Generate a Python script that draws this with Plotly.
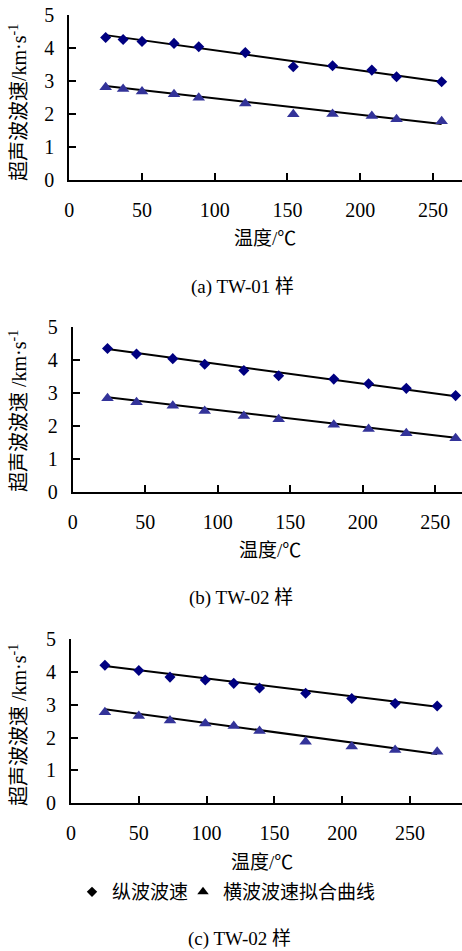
import plotly.graph_objects as go

# ---------------- data ----------------
# (a) TW-01
a_x_long = [25, 37, 50, 72, 89, 121, 154, 181, 208, 225, 256]
a_v_long = [4.32, 4.26, 4.20, 4.14, 4.04, 3.86, 3.43, 3.46, 3.33, 3.13, 2.98]
a_x_tran = [25, 37, 50, 72, 89, 121, 154, 181, 208, 225, 256]
a_v_tran = [2.81, 2.76, 2.68, 2.60, 2.49, 2.32, 1.99, 2.00, 1.94, 1.84, 1.78]
a_fit_x = [25, 256]
a_fit_long = [4.39, 2.98]
a_fit_tran = [2.85, 1.70]

# (b) TW-02
b_x = [24, 44, 69, 91, 118, 142, 180, 204, 230, 264]
b_v_long = [4.36, 4.19, 4.05, 3.88, 3.69, 3.53, 3.43, 3.29, 3.15, 2.93]
b_v_tran = [2.85, 2.73, 2.62, 2.46, 2.31, 2.21, 2.05, 1.92, 1.79, 1.64]
b_fit_x = [24, 264]
b_fit_long = [4.34, 2.91]
b_fit_tran = [2.88, 1.65]

# (c) TW-02
c_x = [25, 50, 73, 99, 120, 139, 173, 207, 239, 270]
c_v_long = [4.20, 4.04, 3.84, 3.75, 3.65, 3.51, 3.35, 3.19, 3.04, 2.96]
c_v_tran = [2.77, 2.66, 2.52, 2.43, 2.35, 2.20, 1.87, 1.73, 1.62, 1.57]
c_fit_x = [25, 270]
c_fit_long = [4.18, 2.94]
c_fit_tran = [2.86, 1.50]

y_ticks = [0, 1, 2, 3, 4, 5]
x_ticks = [0, 50, 100, 150, 200, 250]

captions = ["(a) TW-01 样", "(b) TW-02 样", "(c) TW-02 样"]
x_title = "温度/℃"
y_titles = ["超声波波速/km·s<sup>-1</sup>",
            "超声波波速 /km·s<sup>-1</sup>",
            "超声波波速 /km·s<sup>-1</sup>"]
legend_names = ["纵波波速", "横波波速拟合曲线"]

# ---------------- styling ----------------
W, H = 462, 951
FONT = "Liberation Serif, Noto Sans CJK SC, serif"
FS = 19
TFS = 20
C_LONG = "#000080"
C_TRAN = "#333399"

def py(p):  # pixel row -> paper y
    return 1 - p / H

def px(p):
    return p / W

panels = [
    dict(xs_l=a_x_long, vl=a_v_long, xs_t=a_x_tran, vt=a_v_tran,
         fx=a_fit_x, fl=a_fit_long, ft=a_fit_tran,
         x0=69.3, top=15, bot=180, xmax=270,
         xt=(265, 238), cap=(242, 287), yt=(18, 103)),
    dict(xs_l=b_x, vl=b_v_long, xs_t=b_x, vt=b_v_tran,
         fx=b_fit_x, fl=b_fit_long, ft=b_fit_tran,
         x0=72.7, top=327.3, bot=492.3, xmax=268.4,
         xt=(270, 550), cap=(241, 598), yt=(18, 411)),
    dict(xs_l=c_x, vl=c_v_long, xs_t=c_x, vt=c_v_tran,
         fx=c_fit_x, fl=c_fit_long, ft=c_fit_tran,
         x0=71.0, top=639, bot=803.3, xmax=288.3,
         xt=(262, 862), cap=(240, 939), yt=(18, 725)),
]

fig = go.Figure()
annotations = []
layout_axes = {}

for i, p in enumerate(panels):
    n = "" if i == 0 else str(i + 1)
    xa, ya = "x" + n, "y" + n
    # fit lines
    for fy in (p["fl"], p["ft"]):
        fig.add_trace(go.Scatter(x=p["fx"], y=fy, mode="lines",
                                 line=dict(color="black", width=2),
                                 xaxis=xa, yaxis=ya, showlegend=False,
                                 cliponaxis=False, hoverinfo="skip"))
    fig.add_trace(go.Scatter(x=p["xs_l"], y=p["vl"], mode="markers",
                             marker=dict(symbol="diamond", size=8.5, color=C_LONG),
                             xaxis=xa, yaxis=ya, showlegend=False, cliponaxis=False))
    fig.add_trace(go.Scatter(x=p["xs_t"], y=p["vt"], mode="markers",
                             marker=dict(symbol="triangle-up", size=11, color=C_TRAN),
                             xaxis=xa, yaxis=ya, showlegend=False, cliponaxis=False))

    common = dict(showline=True, linecolor="black", linewidth=2,
                  ticks="inside", ticklen=7, tickwidth=2, tickcolor="black",
                  showgrid=False, zeroline=False, automargin=False,
                  tickfont=dict(family=FONT, size=TFS, color="black"))
    layout_axes["xaxis" + n] = dict(common, domain=[px(p["x0"]), 1],
                                    range=[0, p["xmax"]], tickvals=x_ticks,
                                    anchor=ya, ticklabelstandoff=11)
    layout_axes["yaxis" + n] = dict(common, domain=[py(p["bot"]), py(p["top"])],
                                    range=[0, 5], tickvals=y_ticks,
                                    anchor=xa, ticklabelstandoff=9)

    annotations.append(dict(text=x_title, x=px(p["xt"][0]), y=py(p["xt"][1]),
                            xref="paper", yref="paper", showarrow=False,
                            xanchor="center", yanchor="middle",
                            font=dict(family=FONT, size=FS, color="black")))
    annotations.append(dict(text=captions[i], x=px(p["cap"][0]), y=py(p["cap"][1]),
                            xref="paper", yref="paper", showarrow=False,
                            xanchor="center", yanchor="middle",
                            font=dict(family=FONT, size=FS, color="black")))
    annotations.append(dict(text=y_titles[i], x=px(p["yt"][0]), y=py(p["yt"][1]),
                            xref="paper", yref="paper", showarrow=False,
                            textangle=-90, xanchor="center", yanchor="middle",
                            font=dict(family=FONT, size=FS + 1, color="black")))

# legend-only entries (black markers), each in its own legend box
fig.add_trace(go.Scatter(x=[None], y=[None], mode="markers", name=legend_names[0],
                         marker=dict(symbol="diamond", size=8, color="black"),
                         xaxis="x3", yaxis="y3", legend="legend"))
fig.add_trace(go.Scatter(x=[None], y=[None], mode="markers", name=legend_names[1],
                         marker=dict(symbol="triangle-up", size=10, color="black"),
                         xaxis="x3", yaxis="y3", legend="legend2"))

leg_common = dict(orientation="h", y=py(892), xanchor="left", yanchor="middle",
                  font=dict(family=FONT, size=FS, color="black"),
                  bgcolor="rgba(0,0,0,0)", itemwidth=30)

fig.update_layout(
    width=W, height=H,
    margin=dict(l=0, r=0, t=0, b=0),
    paper_bgcolor="white", plot_bgcolor="white",
    showlegend=True,
    legend=dict(leg_common, x=px(72)),
    legend2=dict(leg_common, x=px(183)),
    annotations=annotations,
    **layout_axes,
)

fig.write_html(
    "out.html",
    config={"displayModeBar": False},
    post_script="document.body.style.margin='0';document.body.style.overflow='hidden';",
)
